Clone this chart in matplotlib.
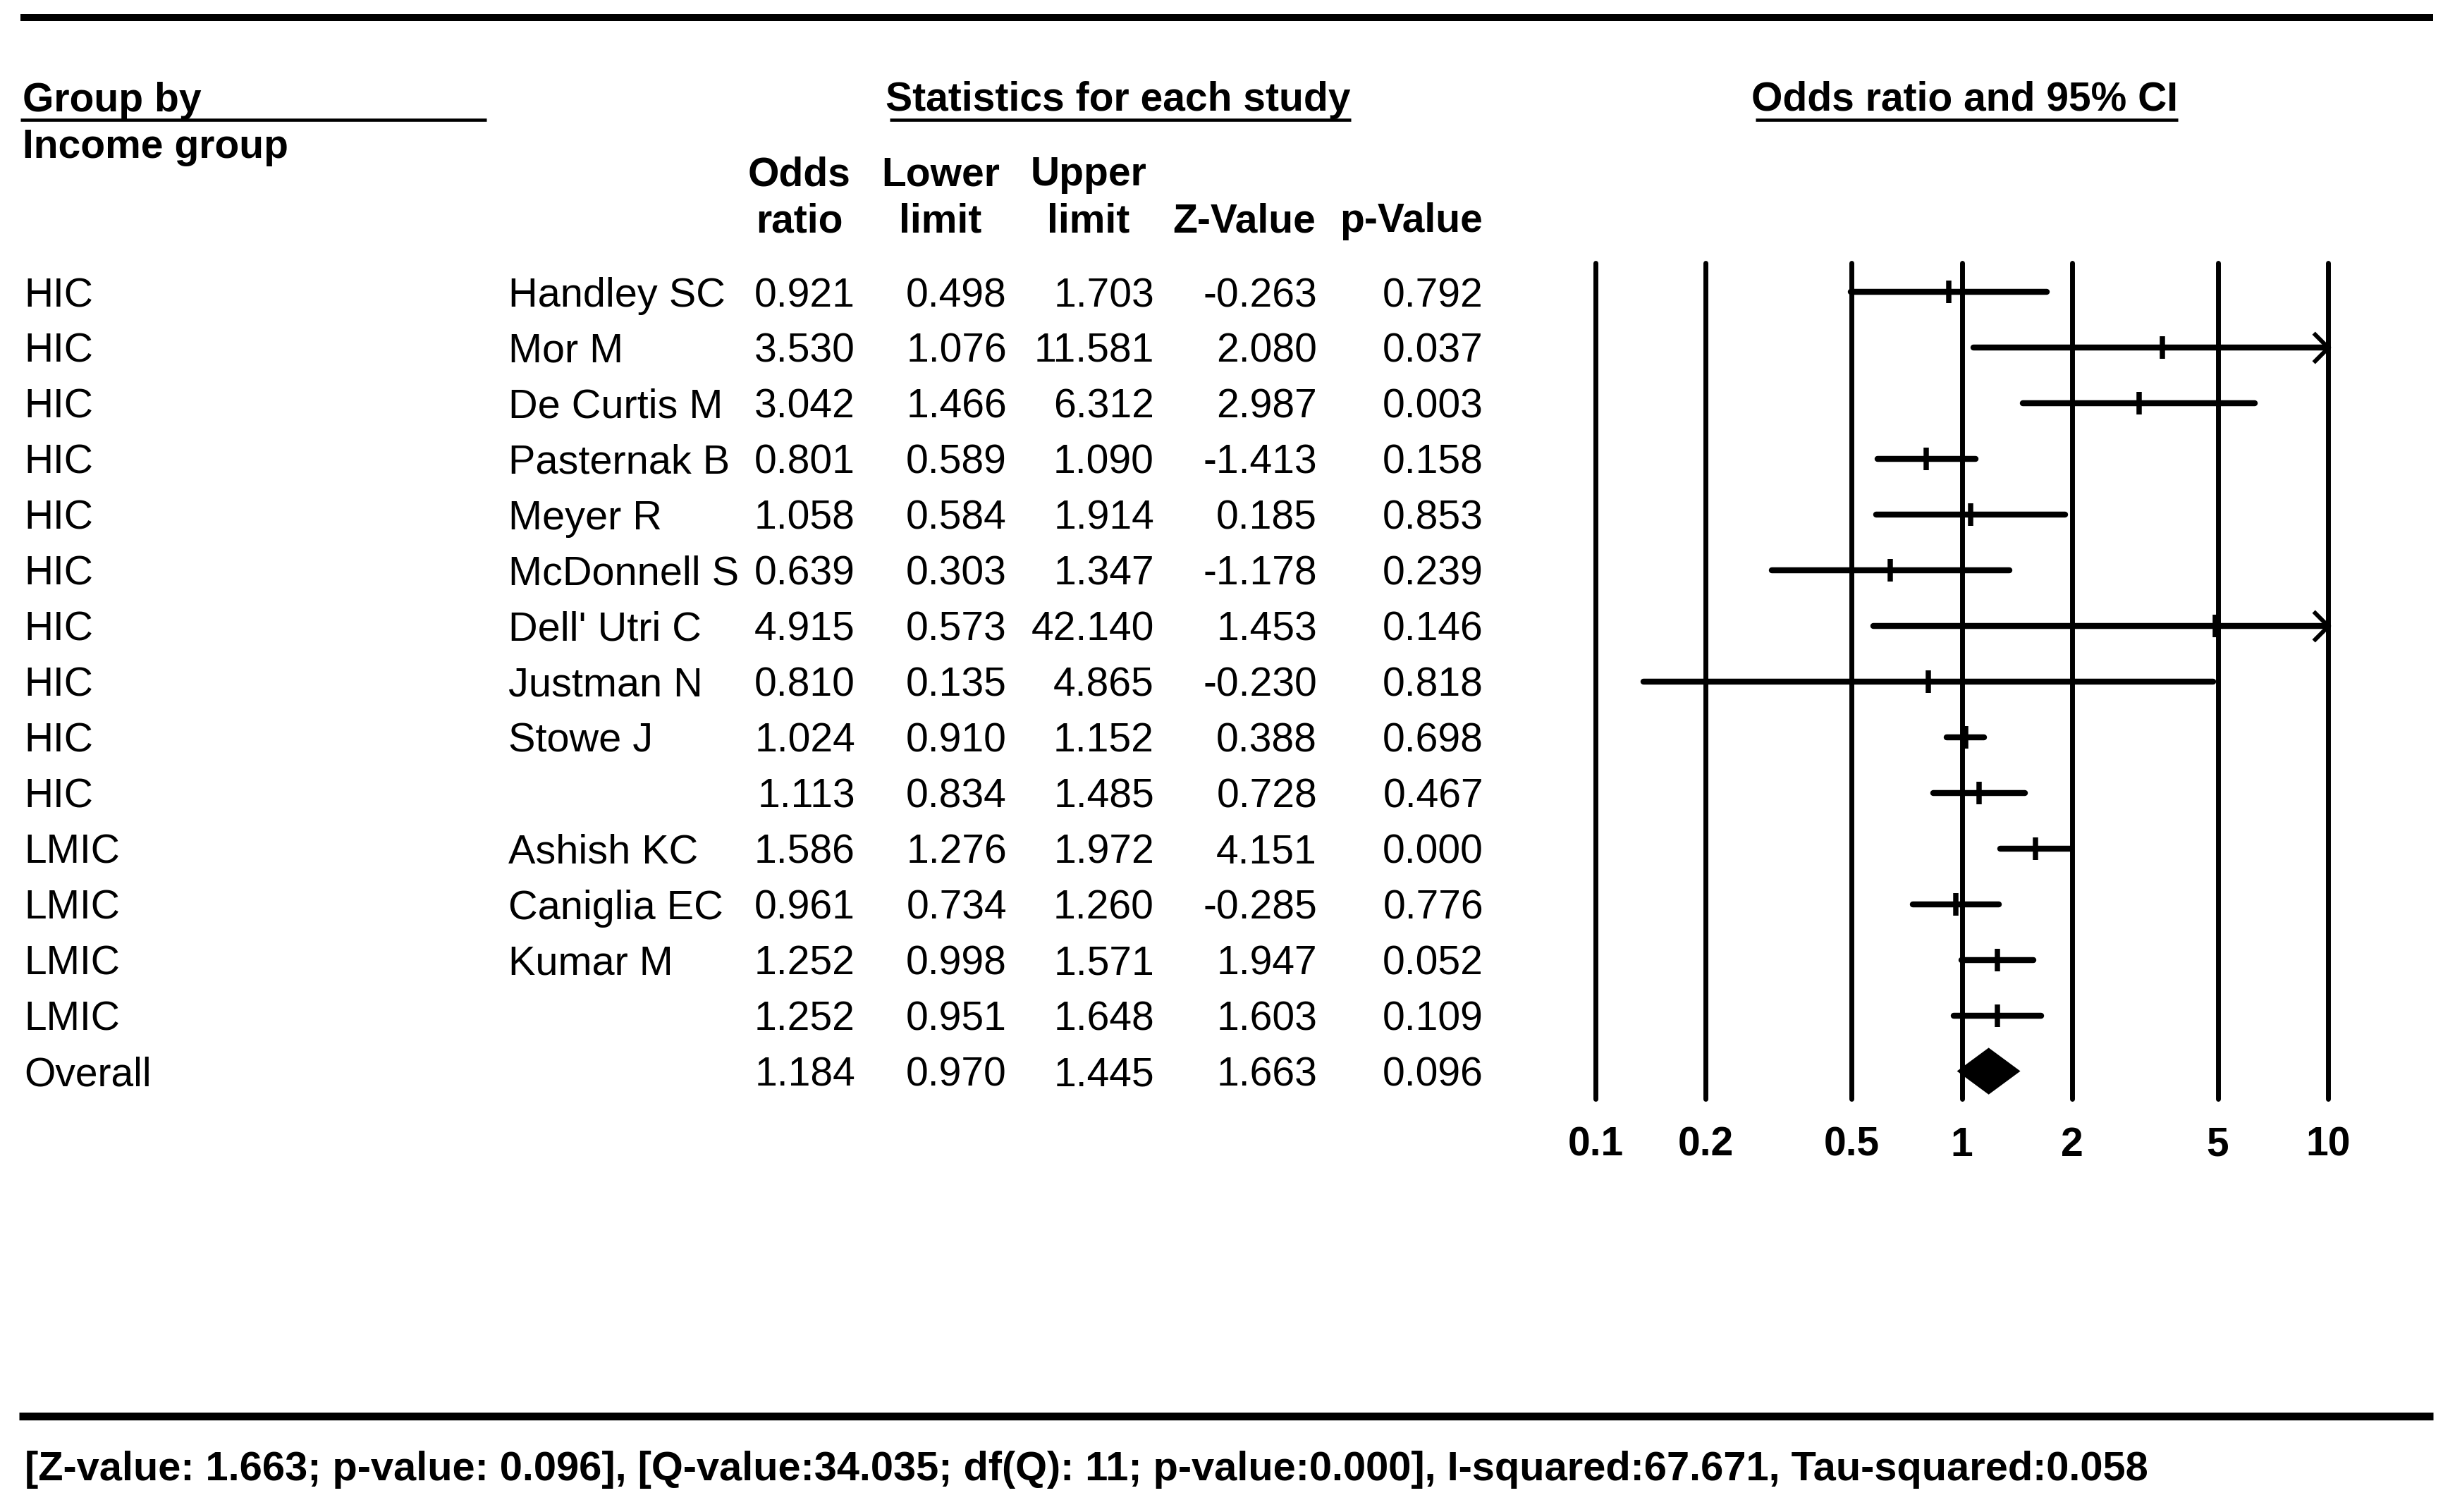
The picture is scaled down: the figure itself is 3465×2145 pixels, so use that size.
import matplotlib
matplotlib.use("Agg")
import matplotlib.pyplot as plt
from matplotlib.lines import Line2D
from matplotlib.path import Path
from matplotlib import transforms

# table data
groups = ["HIC"] * 10 + ["LMIC"] * 4 + ["Overall"]
studies = ["Handley SC", "Mor M", "De Curtis M", "Pasternak B", "Meyer R",
           "McDonnell S", "Dell' Utri C", "Justman N", "Stowe J", "",
           "Ashish KC", "Caniglia EC", "Kumar M", "", ""]
odds = [0.921, 3.530, 3.042, 0.801, 1.058, 0.639, 4.915, 0.810, 1.024, 1.113,
        1.586, 0.961, 1.252, 1.252, 1.184]
lower = [0.498, 1.076, 1.466, 0.589, 0.584, 0.303, 0.573, 0.135, 0.910, 0.834,
         1.276, 0.734, 0.998, 0.951, 0.970]
upper = [1.703, 11.581, 6.312, 1.090, 1.914, 1.347, 42.140, 4.865, 1.152, 1.485,
         1.972, 1.260, 1.571, 1.648, 1.445]
zval = [-0.263, 2.080, 2.987, -1.413, 0.185, -1.178, 1.453, -0.230, 0.388, 0.728,
        4.151, -0.285, 1.947, 1.603, 1.663]
pval = [0.792, 0.037, 0.003, 0.158, 0.853, 0.239, 0.146, 0.818, 0.698, 0.467,
        0.000, 0.776, 0.052, 0.109, 0.096]

ticks = [0.1, 0.2, 0.5, 1, 2, 5, 10]
tick_labels = ["0.1", "0.2", "0.5", "1", "2", "5", "10"]
summary = ("[Z-value: 1.663; p-value: 0.096], [Q-value:34.035; df(Q): 11; "
           "p-value:0.000], I-squared:67.671, Tau-squared:0.058")

W, H = 3466, 2145
plt.rcParams['font.family'] = ['Liberation Sans', 'DejaVu Sans']
FS = 41

fig = plt.figure(figsize=(W / 100, H / 100), dpi=100)


def ftext(x, y, s, **kw):
    kw.setdefault('fontsize', FS)
    kw.setdefault('va', 'baseline')
    return fig.text(x / W, 1 - y / H, s, **kw)


def hline(x0, x1, y, lw):
    fig.add_artist(Line2D([x0 / W, x1 / W], [1 - y / H, 1 - y / H],
                          lw=lw, color='black', solid_capstyle='butt'))


# forest plot axes
row0, dy = 414, 78.97
top_px, bot_px = 373, 1559
x_lo_px, x_hi_px = 2263, 3302
ax = fig.add_axes([x_lo_px / W, 1 - bot_px / H,
                   (x_hi_px - x_lo_px) / W, (bot_px - top_px) / H])
ax.set_xscale('log')
ax.set_xlim(0.1, 10)
ax.set_ylim((bot_px - row0) / dy, (top_px - row0) / dy)
ax.axis('off')

for t in ticks:
    ax.axvline(t, color='black', lw=5, clip_on=False, solid_capstyle='round')

chevron = Path([(-1, 1), (0, 0), (-1, -1)],
               [Path.MOVETO, Path.LINETO, Path.LINETO])
n = len(odds)
for i in range(n - 1):
    hi = min(upper[i], 10)
    ax.plot([lower[i], hi], [i, i], color='black', lw=6.1,
            solid_capstyle='round', clip_on=False)
    ax.plot(odds[i], i, marker='|', ms=23, mew=5.4, color='black')
    if upper[i] > 10:
        ax.plot(10, i, marker=chevron, ms=30, mew=4.3, mfc='none',
                mec='black', clip_on=False)

# overall diamond
k = n - 1
ax.fill([lower[k], odds[k], upper[k], odds[k]], [k, k - 0.42, k, k + 0.42],
        color='black', lw=0)

tr = transforms.blended_transform_factory(ax.transData, fig.transFigure)
for t, lab in zip(ticks, tick_labels):
    ax.text(t, 1 - 1640 / H, lab, transform=tr, ha='center', va='baseline',
            fontsize=FS, fontweight='bold')

# table rows
cols = [1213, 1428, 1637, 1868, 2104]
for i in range(n):
    yb = row0 + 21 + i * dy
    ftext(34, yb, groups[i])
    ftext(721, yb, studies[i], fontsize=41.5)
    for x, v in zip(cols, [odds[i], lower[i], upper[i], zval[i], pval[i]]):
        ftext(x, yb, f"{v:.3f}", ha='right')

# headers
bold = dict(fontweight='bold')
ftext(32, 158, "Group by", **bold)
ftext(32, 224, "Income group", **bold)
hline(29, 690, 170, 3.3)
t_stat = ftext(1586, 157, "Statistics for each study", ha='center', **bold)
t_or = ftext(2787, 157, "Odds ratio and 95% CI", ha='center', **bold)
ftext(1134, 263, "Odds", ha='center', **bold)
ftext(1134, 329, "ratio", ha='center', **bold)
ftext(1334, 263, "Lower", ha='center', **bold)
ftext(1334, 329, "limit", ha='center', **bold)
ftext(1544, 263, "Upper", ha='center', **bold)
ftext(1544, 329, "limit", ha='center', **bold)
ftext(1765, 329, "Z-Value", ha='center', **bold)
ftext(2002, 329, "p-Value", ha='center', **bold)

fig.canvas.draw()
for t in (t_stat, t_or):
    bb = t.get_window_extent()
    hline(bb.x0 + 6, bb.x1, 170, 3.3)

# frame lines and summary
hline(29, 3451, 25, 7.2)
hline(27, 3451, 2009, 8)
ftext(35, 2100, summary, fontsize=41.6, **bold)

fig.savefig("out.png", dpi=100)
